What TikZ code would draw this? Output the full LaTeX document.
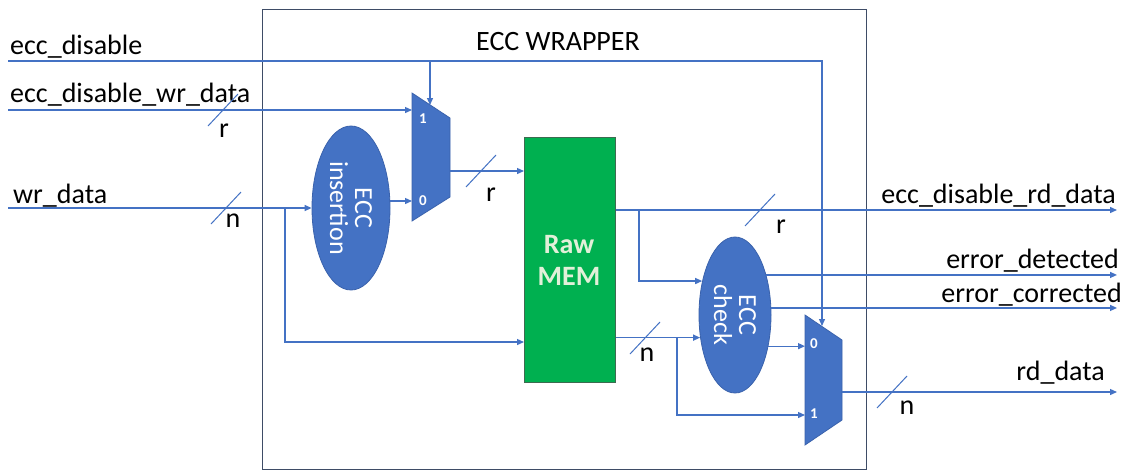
\documentclass[tikz,border=0pt]{standalone}
\usepackage{fontspec}
\setmainfont{Carlito}
\usetikzlibrary{shapes.geometric,arrows.meta}
\definecolor{lineblue}{HTML}{4472C4}
\definecolor{fillblue}{HTML}{4472C4}
\definecolor{edgeblue}{HTML}{3A62AC}
\definecolor{memgreen}{HTML}{00B050}
\definecolor{memedge}{HTML}{3D6B50}
\definecolor{memtext}{HTML}{E2F0D9}
\definecolor{wrapgray}{HTML}{3E4C66}
\begin{document}
\begin{tikzpicture}[x=1pt,y=-1pt,
  wire/.style={draw=lineblue, line width=1.3pt},
  arr/.style={wire, -{Triangle[length=7pt,width=6pt]}},
  blob/.style={ellipse, fill=fillblue, draw=edgeblue, line width=0.8pt, inner sep=0pt},
  blobtext/.style={rotate=-90, text=white, align=center, font=\fontsize{26}{25}\selectfont},
  lbl/.style={font=\fontsize{28}{30}\selectfont, text=black, inner sep=0pt},
  muxbody/.style={fill=fillblue, draw=edgeblue, line width=0.8pt},
  muxlbl/.style={text=white, inner sep=0pt, font=\bfseries\fontsize{15}{16}\selectfont}
]
\useasboundingbox (0,0) rectangle (1127,472);
\fill[white] (0,0) rectangle (1127,472);

% wrapper
\node[draw=wrapgray, line width=1.2pt, minimum width=604pt, minimum height=460pt, anchor=north west, inner sep=0pt] (wrap) at (262,9) {};
\node[lbl, anchor=base] (title) at (558,50) {ECC WRAPPER};

% blocks
\node[blob, minimum width=78pt, minimum height=164pt] (ins) at (351,208) {};
\node[blobtext] (instext) at (ins.center) {ECC\\insertion};
\node[blob, minimum width=72pt, minimum height=156pt] (chk) at (735,315) {};
\node[blobtext] (chktext) at (chk.center) {ECC\\check};
\node[fill=memgreen, draw=memedge, line width=0.8pt, minimum width=91pt, minimum height=245pt, anchor=north west, inner sep=0pt] (mem) at (524,137) {};
\node[text=memtext, align=center, font=\bfseries\fontsize{28}{32}\selectfont] (memtext) at (569,260) {Raw\\MEM};

% muxes
\filldraw[muxbody] (412,93) -- (450,118) -- (450,197) -- (412,221) -- cycle;
\filldraw[muxbody] (805,315) -- (842,340) -- (842,420) -- (805,445) -- cycle;
\coordinate (m1i1) at (412,110);
\coordinate (m1i0) at (412,201);
\coordinate (m1sel) at (430,105);
\coordinate (m1out) at (450,171);
\coordinate (m2i0) at (805,346);
\coordinate (m2i1) at (805,415);
\coordinate (m2sel) at (822,326);
\coordinate (m2out) at (842,392);
\node[muxlbl] (m1l1) at (423,119) {1};
\node[muxlbl] (m1l0) at (423,201) {0};
\node[muxlbl] (m2l0) at (814,344) {0};
\node[muxlbl] (m2l1) at (814,414) {1};

% inputs
\coordinate (edIn) at (8,61);
\coordinate (edTurn) at (822,61);
\coordinate (wrdIn) at (8,110);
\coordinate (wdIn) at (8,208);
\coordinate (brW) at (285,208);
\coordinate (memIn) at (524,342);
\coordinate (rdEnd) at (1117,210);
\coordinate (brA) at (639,210);
\coordinate (brB) at (677,338);
\coordinate (outEnd) at (1117,300);

\node[lbl, anchor=base west] (l1) at (10,54) {ecc\_disable};
\node[lbl, anchor=base west] (l2) at (10,102) {ecc\_disable\_wr\_data};
\node[lbl, anchor=base west] (l3) at (13,203) {wr\_data};
\node[lbl, anchor=base east] (l4) at (1116,203) {ecc\_disable\_rd\_data};
\node[lbl, anchor=base east] (l5) at (1119,268) {error\_detected};
\node[lbl, anchor=base east] (l6) at (1122,302) {error\_corrected};
\node[lbl, anchor=base east] (l7) at (1105,380) {rd\_data};

% connectors
\draw[arr] (edIn) -- (edTurn) -- (m2sel);
\draw[arr] (edIn -| m1sel) -- (m1sel);
\draw[arr] (wrdIn) -- (m1i1);
\draw[arr] (wdIn) -- (ins.west);
\draw[arr] (brW) |- (memIn);
\draw[arr] (ins.east |- m1i0) -- (m1i0);
\draw[arr] (m1out) -- (m1out -| mem.west);
\draw[arr] (mem.east |- rdEnd) -- (rdEnd);
\draw[arr] (brA) |- (chk.134.6);
\draw[arr] (chk.213.8 -| mem.east) -- (chk.213.8);
\draw[arr] (brB) |- (m2i1);
\draw[arr] (chk.-43.2) -- (chk.-43.2 -| m2i0);
\draw[arr] (chk.52.3) -- (chk.52.3 -| outEnd);
\draw[arr] (chk.11) -- (chk.11 -| outEnd);
\draw[arr] (m2out) -- (m2out -| outEnd);

% bus width marks
\coordinate (s1) at (223,110);
\coordinate (s2) at (226,208);
\coordinate (s3) at (481,171);
\coordinate (s4) at (760,210);
\coordinate (s5) at (645,338);
\coordinate (s6) at (892,392);
\foreach \s in {s1,s2,s3,s4,s5,s6}
  \draw[wire, line width=1pt] (\s) +(-15,16) -- +(15,-16);
\node[lbl] (n1) at (224,131) {r};
\node[lbl] (n2) at (233,221) {n};
\node[lbl] (n3) at (491,195) {r};
\node[lbl] (n4) at (781,227) {r};
\node[lbl] (n5) at (647,355) {n};
\node[lbl] (n6) at (907,408) {n};
\end{tikzpicture}
\end{document}
